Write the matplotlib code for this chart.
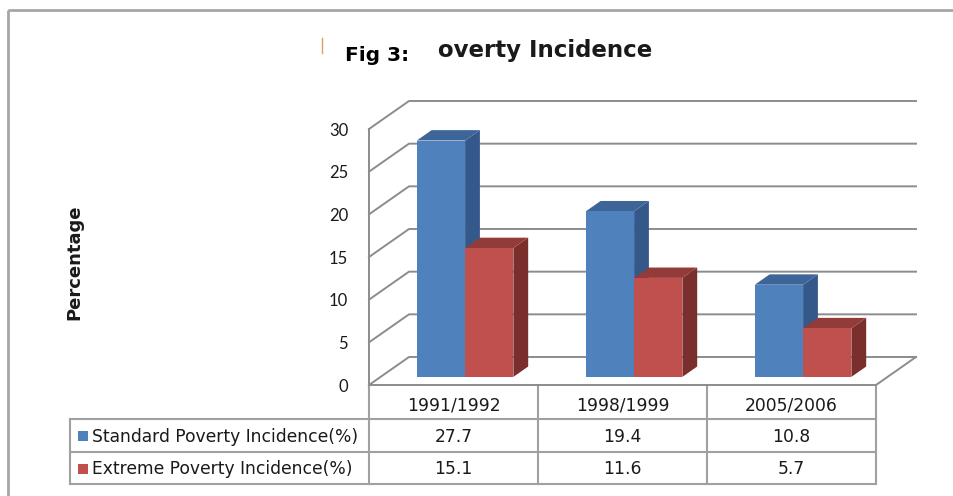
import matplotlib
matplotlib.use('Agg')
import matplotlib.pyplot as plt
from matplotlib.patches import Polygon, Rectangle
from matplotlib import transforms

# data
categories = ['1991/1992', '1998/1999', '2005/2006']
series_names = ['Standard Poverty Incidence(%)', 'Extreme Poverty Incidence(%)']
standard = [27.7, 19.4, 10.8]
extreme = [15.1, 11.6, 5.7]
y_ticks = [0, 5, 10, 15, 20, 25, 30]

front_colors = ['#4F81BD', '#C0504D']
side_colors = ['#35588a', '#7a2f2d']
top_colors = ['#3e6597', '#933b38']
grid_col = '#8c8c8c'
line_col = '#a0a0a0'
text_col = '#1a1a1a'

W, H = 954, 496
fig = plt.figure(figsize=(W / 100, H / 100), dpi=100)

# background axes in pixel units, y going down
bg = fig.add_axes([0, 0, 1, 1])
bg.set_xlim(0, W)
bg.set_ylim(H, 0)
bg.axis('off')

# front plane of the 3-D box: x in categories, y in percent
px_left, px_right = 369, 876
py_zero, py_top = 385, 129
ax = fig.add_axes([px_left / W, 1 - py_zero / H,
                   (px_right - px_left) / W, (py_zero - py_top) / H])
ax.set_xlim(0, len(categories))
ax.set_ylim(0, 30)
ax.patch.set_alpha(0)
for sp in ax.spines.values():
    sp.set_visible(False)
ax.set_xticks([])
ax.set_yticks(y_ticks)
ax.tick_params(axis='y', length=0, pad=15, labelsize=12, labelcolor=text_col)
for lab in ax.get_yticklabels():
    lab.set_family('Lato')

# depth of the box (data units for a full step back)
cat_px = (px_right - px_left) / len(categories)
val_px = (py_zero - py_top) / 30
DX = 40 / cat_px
DY = 28 / val_px


def proj(x, y, d):
    return (x + d * DX, y + d * DY)


ncat = len(categories)
# walls: back wall and left side wall gridlines
for v in y_ticks:
    pts = [proj(0, v, 0), proj(0, v, 1), proj(ncat, v, 1)]
    ax.plot([p[0] for p in pts], [p[1] for p in pts], color=grid_col, lw=1.4,
            clip_on=False, zorder=1)
# floor front/right edges and front vertical edge
pts = [proj(0, 30, 0), proj(0, 0, 0), proj(ncat, 0, 0), proj(ncat, 0, 1)]
ax.plot([p[0] for p in pts], [p[1] for p in pts], color=grid_col, lw=1.4,
        clip_on=False, zorder=1)

# 3-D bars
nser = 2
gap = 1.5
w = 1 / (nser + gap)
d0, d1 = 0.29, 0.66
z = 3
for i in range(ncat):
    for s, vals in enumerate([standard, extreme]):
        v = vals[i]
        x0 = i + gap * w / 2 + s * w
        x1 = x0 + w
        side = [proj(x1, 0, d0), proj(x1, 0, d1), proj(x1, v, d1), proj(x1, v, d0)]
        top = [proj(x0, v, d0), proj(x1, v, d0), proj(x1, v, d1), proj(x0, v, d1)]
        front = [proj(x0, 0, d0), proj(x1, 0, d0), proj(x1, v, d0), proj(x0, v, d0)]
        ax.add_patch(Polygon(side, closed=True, fc=side_colors[s], ec='none', zorder=z, clip_on=False))
        ax.add_patch(Polygon(top, closed=True, fc=top_colors[s], ec='none', zorder=z, clip_on=False))
        ax.add_patch(Polygon(front, closed=True, fc=front_colors[s], ec='none', zorder=z + 0.5, clip_on=False))
        z += 1

# data table below the plot (x in categories, y in pixels)
tr = transforms.blended_transform_factory(ax.transData, bg.transData)
row_y = [385, 419, 452, 484]
x_lab = -1.77
tfont = dict(family='DejaVu Sans', fontsize=12.3, color=text_col)
for x in range(ncat + 1):
    bg.plot([x, x], [row_y[0], row_y[-1]], color=line_col, lw=1.5, transform=tr)
bg.plot([x_lab, x_lab], [row_y[1], row_y[-1]], color=line_col, lw=1.5, transform=tr)
for y in row_y[1:]:
    bg.plot([x_lab, ncat], [y, y], color=line_col, lw=1.5, transform=tr)
for i, c in enumerate(categories):
    bg.text(i + 0.5, 406, c, ha='center', va='center', transform=tr, **tfont)
for r, (name, vals) in enumerate(zip(series_names, [standard, extreme])):
    yc = (row_y[r + 1] + row_y[r + 2]) / 2
    for i, v in enumerate(vals):
        bg.text(i + 0.5, yc + 1, '%.1f' % v, ha='center', va='center', transform=tr, **tfont)
    bg.add_patch(Rectangle((78, yc - 4.5), 10, 10, fc=front_colors[r], ec='none'))
    bg.text(92, yc + 1, name, ha='left', va='center', **tfont)

# title, partly covered by the "Fig 3:" label
tkw = dict(fontsize=16.5, fontweight='bold', family='DejaVu Sans')
title = 'Poverty Incidence'
ttl = bg.text(652, 57, title, ha='right', va='baseline', color=text_col, **tkw)
rend = fig.canvas.get_renderer()
tmp = bg.text(0, 0, title[1:], **tkw)
rest_w = tmp.get_window_extent(rend).width
tmp.remove()
p_end = 652 - rest_w - 1
bg.add_patch(Rectangle((335, 30), p_end - 335, 40, fc='white', ec='none', zorder=5))
bg.text(345, 61, 'Fig 3:', ha='left', va='baseline', color='black', zorder=6,
        fontsize=14.5, fontweight='bold', family='DejaVu Sans')
bg.plot([322, 322], [38, 53], color='#e0a060', lw=1)

bg.text(74, 262, 'Percentage', rotation=90, ha='center', va='center',
        fontsize=13, fontweight='bold', family='DejaVu Sans', color=text_col)

# outer chart border
bg.add_patch(Rectangle((8, 10), 1000, 600, fill=False, ec='#a6a6a6', lw=2))

fig.savefig('out.png', dpi=100)
